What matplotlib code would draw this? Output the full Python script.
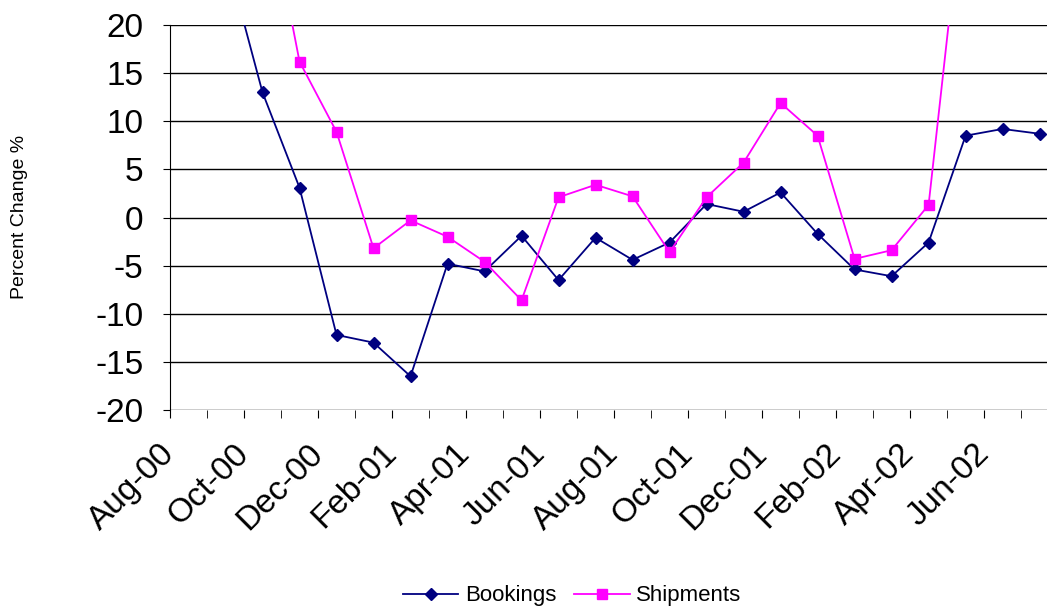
import matplotlib
matplotlib.use("Agg")
import matplotlib.pyplot as plt
import numpy as np

plt.rcParams["axes.unicode_minus"] = False

months = ["Aug-00","Sep-00","Oct-00","Nov-00","Dec-00","Jan-01","Feb-01","Mar-01","Apr-01","May-01",
          "Jun-01","Jul-01","Aug-01","Sep-01","Oct-01","Nov-01","Dec-01","Jan-02","Feb-02","Mar-02",
          "Apr-02","May-02","Jun-02","Jul-02"]
bookings = [40, 27.4, 13, 3.1, -12.2, -13, -16.5, -4.8, -5.6, -1.9, -6.5, -2.1, -4.4, -2.6,
            1.4, 0.6, 2.6, -1.7, -5.4, -6.1, -2.6, 8.5, 9.2, 8.7]
shipments = [np.nan, np.nan, 36, 16.2, 8.9, -3.2, -0.3, -2, -4.6, -8.6, 2.1, 3.4, 2.2, -3.6,
             2.1, 5.7, 11.9, 8.5, -4.3, -3.4, 1.3, 36, np.nan, np.nan]
tick_labels = months[::2]

fig = plt.figure(figsize=(10.5, 6.13), dpi=100)
ax = fig.add_axes([170/1050, 1-410/613, (1047-170)/1050, (410-25)/613])
x = np.arange(len(months))
ax.plot(x, bookings, color="#000080", marker="D", ms=6, lw=1.3, label="Bookings")
ax.plot(x, shipments, color="#FF00FF", marker="s", ms=7, lw=1.3, label="Shipments")
ax.set_ylim(-20, 20)
ax.set_xlim(-0.5, 23.2)
ax.set_yticks(range(-20, 21, 5))
ax.yaxis.grid(True, color="black", lw=1)
ax.set_axisbelow(True)
ax.set_xticks(np.arange(-0.5, len(months) - 1, 2))
ax.set_xticks(np.arange(-0.5, 23.2, 1), minor=True)
ax.set_xticklabels(tick_labels, rotation=45, ha="right", va="center", rotation_mode="anchor",
                   fontsize=24, family="Liberation Sans")
ax.tick_params(axis="x", which="both", length=6, direction="out", pad=22)
ax.tick_params(axis="y", labelsize=24, length=5, pad=14)
for l in ax.get_yticklabels():
    l.set_family("Liberation Sans")
for s in ["top", "right", "bottom"]:
    ax.spines[s].set_visible(False)
fig.text(20/1050, 1-217/613, "Percent Change %", rotation=90, ha="center", va="center",
         fontsize=14, family="Liberation Sans")
fig.legend(loc="lower center", bbox_to_anchor=(0.545, -0.022), ncol=2, frameon=False,
           prop={"family": "Liberation Sans", "size": 16}, handlelength=2.5, columnspacing=0.8,
           handletextpad=0.3)
fig.savefig("out.png", dpi=100)
